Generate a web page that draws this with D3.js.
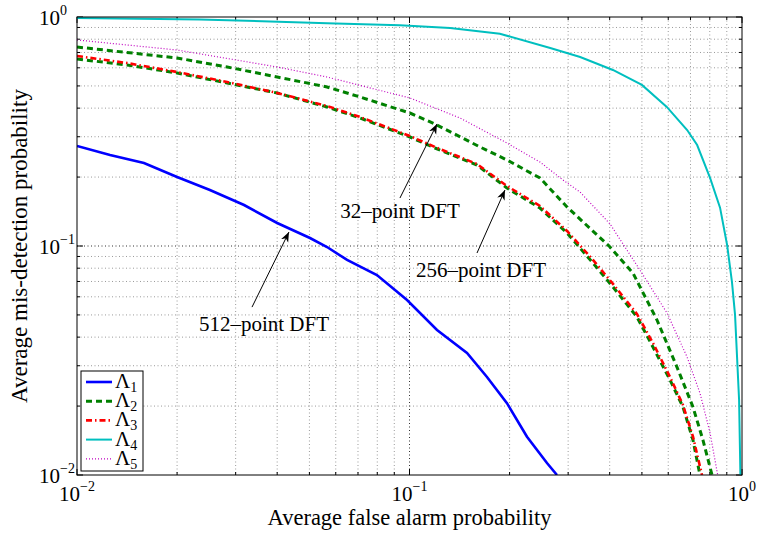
<!DOCTYPE html>
<html>
<head>
<meta charset="utf-8">
<script src="https://cdn.jsdelivr.net/npm/d3@7"></script>
<style>
body { margin: 0; background: #fff; }
svg text { font-family: "Liberation Serif", "Times New Roman", serif; fill: #000; }
</style>
</head>
<body>
<svg id="chart" width="757" height="533"></svg>
<script>
// Λ1 : 512-point DFT
const fa1 = [0.01, 0.01257, 0.0159, 0.02, 0.0251, 0.0318, 0.04, 0.0502, 0.0565, 0.0649, 0.0798, 0.0983, 0.121, 0.1489, 0.171, 0.1964, 0.2256, 0.2591, 0.2777];
const md1 = [0.2733, 0.2496, 0.2303, 0.2001, 0.1756, 0.151, 0.126, 0.1084, 0.099, 0.0869, 0.0747, 0.0581, 0.043, 0.0341, 0.0268, 0.0206, 0.0147, 0.01128, 0.01];

// Λ2 : 32-point DFT
const fa2a = [0.01, 0.02, 0.0283, 0.04, 0.0565, 0.071, 0.1003, 0.1193, 0.163, 0.1964, 0.2469, 0.2977, 0.4009, 0.47, 0.5551, 0.6375, 0.7122, 0.7632, 0.8125];
const md2a = [0.7396, 0.6622, 0.6049, 0.547, 0.4946, 0.4474, 0.3808, 0.341, 0.2706, 0.2374, 0.1981, 0.148, 0.099, 0.0762, 0.0475, 0.0296, 0.0198, 0.0142, 0.01];

// Λ2 : 256-point DFT
const fa2b = [0.01, 0.01414, 0.02, 0.0283, 0.04, 0.0565, 0.071, 0.1003, 0.1193, 0.1596, 0.1964, 0.2469, 0.2977, 0.3563, 0.4093, 0.4831, 0.5398, 0.6074, 0.6646, 0.7122, 0.7474];
const md2b = [0.6555, 0.6172, 0.5693, 0.5149, 0.4658, 0.4046, 0.3622, 0.2992, 0.2679, 0.2258, 0.1791, 0.1465, 0.114, 0.0843, 0.0662, 0.049, 0.0362, 0.026, 0.0198, 0.0142, 0.01];

// Λ3
const fa3 = [0.01, 0.01414, 0.02, 0.0283, 0.04, 0.0565, 0.071, 0.1003, 0.1193, 0.1596, 0.1964, 0.2469, 0.2977, 0.3563, 0.4093, 0.4831, 0.5398, 0.6074, 0.6646, 0.7122, 0.7579];
const md3 = [0.6757, 0.6298, 0.5751, 0.5201, 0.4658, 0.4088, 0.3659, 0.3021, 0.2706, 0.228, 0.1828, 0.1495, 0.1163, 0.0869, 0.0683, 0.0505, 0.0377, 0.0268, 0.0202, 0.0147, 0.01];

// Λ4
const fa4 = [0.01, 0.0234, 0.0565, 0.0935, 0.1325, 0.187, 0.265, 0.326, 0.409, 0.5, 0.594, 0.684, 0.733, 0.802, 0.859, 0.902, 0.933, 0.953, 0.98, 0.989];
const md4 = [0.99, 0.975, 0.94, 0.92, 0.895, 0.845, 0.732, 0.669, 0.587, 0.505, 0.405, 0.321, 0.276, 0.198, 0.147, 0.101, 0.0696, 0.05, 0.0213, 0.01];

// Λ5
const fa5 = [0.01, 0.02, 0.04, 0.0565, 0.1003, 0.1419, 0.1964, 0.2469, 0.2895, 0.3257, 0.4009, 0.4933, 0.5948, 0.6833, 0.7474, 0.8014, 0.845];
const md5 = [0.7938, 0.7177, 0.6049, 0.547, 0.4429, 0.3622, 0.2817, 0.2326, 0.1941, 0.1721, 0.1248, 0.0785, 0.051, 0.0328, 0.0228, 0.0153, 0.01];

const majorTicks = [0.01, 0.1, 1];
const tickExponents = ["\u22122", "\u22121", "0"];
const legendNames = ["1", "2", "3", "4", "5"];

const annotations = [
  {text: "32\u2013point DFT", tx: 0.0936, ty: 0.1325, ax: 0.0936, ay: 0.162, hx: 0.121, hy: 0.341},
  {text: "256\u2013point DFT", tx: 0.164, ty: 0.0732, ax: 0.1596, ay: 0.0932, hx: 0.1937, hy: 0.1756},
  {text: "512\u2013point DFT", tx: 0.0365, ty: 0.0425, ax: 0.0336, ay: 0.0541, hx: 0.0434, hy: 0.1151}
];

const margin = {left: 77, top: 17, right: 15, bottom: 58};
const width = 757 - margin.left - margin.right;
const height = 533 - margin.top - margin.bottom;

const svg = d3.select("#chart");
const g = svg.append("g").attr("transform", "translate(" + margin.left + "," + margin.top + ")");

const x = d3.scaleLog().domain([0.01, 1]).range([0, width]);
const y = d3.scaleLog().domain([0.01, 1]).range([height, 0]);

// minor tick values
const minor = [];
[0.01, 0.1].forEach(d => { for (let k = 2; k <= 9; k++) minor.push(d * k); });

// grid
g.selectAll(".gx-minor").data(minor).enter().append("line")
  .attr("x1", d => x(d)).attr("x2", d => x(d)).attr("y1", 0).attr("y2", height)
  .attr("stroke", "#9a9a9a").attr("stroke-width", 1).attr("stroke-dasharray", "1,2.5");
g.selectAll(".gy-minor").data(minor).enter().append("line")
  .attr("y1", d => y(d)).attr("y2", d => y(d)).attr("x1", 0).attr("x2", width)
  .attr("stroke", "#9a9a9a").attr("stroke-width", 1).attr("stroke-dasharray", "1,2.5");
g.append("line").attr("x1", x(0.1)).attr("x2", x(0.1)).attr("y1", 0).attr("y2", height)
  .attr("stroke", "#333").attr("stroke-width", 1).attr("stroke-dasharray", "1,2.5");
g.append("line").attr("y1", y(0.1)).attr("y2", y(0.1)).attr("x1", 0).attr("x2", width)
  .attr("stroke", "#333").attr("stroke-width", 1).attr("stroke-dasharray", "1,2.5");

// ticks on all four sides, pointing inward
const tickSets = [{vals: minor, len: 3}, {vals: majorTicks, len: 6}];
tickSets.forEach(t => {
  t.vals.forEach(v => {
    g.append("line").attr("x1", x(v)).attr("x2", x(v)).attr("y1", height).attr("y2", height - t.len).attr("stroke", "#000");
    g.append("line").attr("x1", x(v)).attr("x2", x(v)).attr("y1", 0).attr("y2", t.len).attr("stroke", "#000");
    g.append("line").attr("y1", y(v)).attr("y2", y(v)).attr("x1", 0).attr("x2", t.len).attr("stroke", "#000");
    g.append("line").attr("y1", y(v)).attr("y2", y(v)).attr("x1", width).attr("x2", width - t.len).attr("stroke", "#000");
  });
});

// clip + series
svg.append("defs").append("clipPath").attr("id", "clip")
  .append("rect").attr("width", width).attr("height", height);

const series = [
  {fa: fa1, md: md1, color: "#0000ff", w: 2.6, dash: null},
  {fa: fa2a, md: md2a, color: "#008000", w: 3, dash: "6,4"},
  {fa: fa2b, md: md2b, color: "#008000", w: 3, dash: "6,4"},
  {fa: fa3, md: md3, color: "#ff0000", w: 2.6, dash: "6,3,1.5,3"},
  {fa: fa4, md: md4, color: "#00bfbf", w: 2, dash: null},
  {fa: fa5, md: md5, color: "#bf00bf", w: 1.2, dash: "1,2"}
];

const line = d3.line().x(d => x(d[0])).y(d => y(d[1]));
const plot = g.append("g").attr("clip-path", "url(#clip)");
series.forEach(s => {
  plot.append("path").datum(d3.zip(s.fa, s.md))
    .attr("d", line).attr("fill", "none")
    .attr("stroke", s.color).attr("stroke-width", s.w)
    .attr("stroke-dasharray", s.dash);
});

// box
g.append("rect").attr("width", width).attr("height", height)
  .attr("fill", "none").attr("stroke", "#000").attr("stroke-width", 1);

// tick labels
majorTicks.forEach((v, i) => {
  const tx = g.append("text").attr("x", x(v)).attr("y", height + 26)
    .attr("text-anchor", "middle").style("font-size", "21px").text("10");
  tx.append("tspan").attr("dy", -10).style("font-size", "14px").text(tickExponents[i]);

  const ty = g.append("text").attr("x", 39 - margin.left).attr("y", y(v) + 8)
    .attr("text-anchor", "start").style("font-size", "21px").text("10");
  ty.append("tspan").attr("dy", -10).style("font-size", "14px").text(tickExponents[i]);
});

// axis titles
g.append("text").attr("x", width / 2).attr("y", height + 50)
  .attr("text-anchor", "middle").style("font-size", "22.5px")
  .text("Average false alarm probability");
g.append("text").attr("transform", "translate(" + (27 - margin.left) + "," + (height / 2) + ") rotate(-90)")
  .attr("text-anchor", "middle").style("font-size", "23px")
  .text("Average mis-detection probability");

// annotations
svg.select("defs").append("marker").attr("id", "arrow")
  .attr("viewBox", "0 0 10 10").attr("refX", 10).attr("refY", 5)
  .attr("markerWidth", 10).attr("markerHeight", 10).attr("markerUnits", "userSpaceOnUse")
  .attr("orient", "auto")
  .append("path").attr("d", "M0,1 L10,5 L0,9 L3,5 Z").attr("fill", "#000");

annotations.forEach(a => {
  g.append("line").attr("x1", x(a.ax)).attr("y1", y(a.ay)).attr("x2", x(a.hx)).attr("y2", y(a.hy))
    .attr("stroke", "#000").attr("stroke-width", 1).attr("marker-end", "url(#arrow)");
  g.append("text").attr("x", x(a.tx)).attr("y", y(a.ty))
    .attr("text-anchor", "middle").style("font-size", "21px").text(a.text);
});

// legend
const leg = g.append("g").attr("transform", "translate(4," + (371 - margin.top) + ")");
leg.append("rect").attr("width", 62).attr("height", 100)
  .attr("fill", "#fff").attr("stroke", "#000").attr("stroke-width", 1);
const legSeries = [series[0], series[1], series[3], series[4], series[5]];
legSeries.forEach((s, i) => {
  const ly = 11 + i * 19.2;
  leg.append("line").attr("x1", 5).attr("x2", 31).attr("y1", ly).attr("y2", ly)
    .attr("stroke", s.color).attr("stroke-width", s.w).attr("stroke-dasharray", s.dash);
  const t = leg.append("text").attr("x", 34).attr("y", ly + 6).style("font-size", "21px").text("\u039b");
  t.append("tspan").attr("dy", 4).style("font-size", "14px").text(legendNames[i]);
});
</script>
</body>
</html>
